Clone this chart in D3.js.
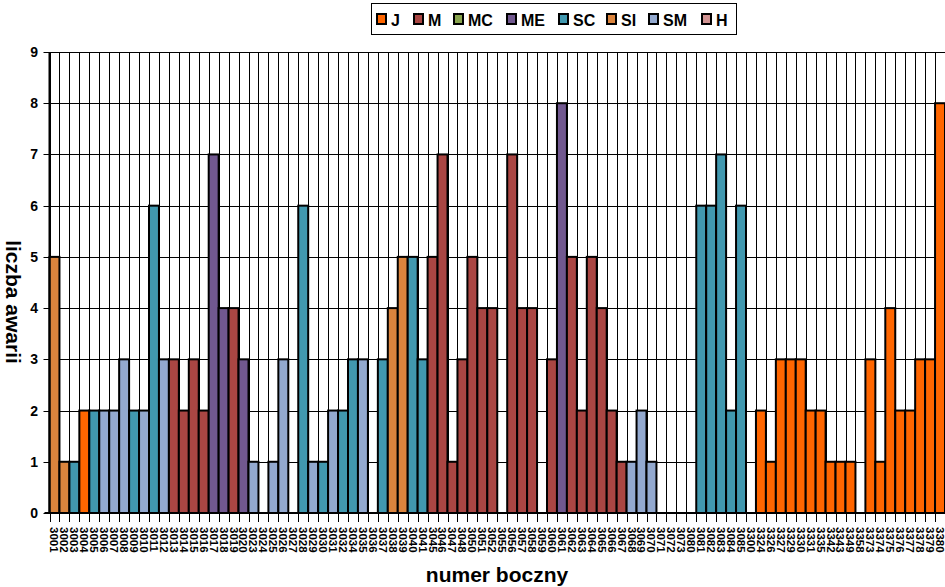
<!DOCTYPE html>
<html><head><meta charset="utf-8">
<script src="https://cdn.jsdelivr.net/npm/d3@7"></script>
<style>body{margin:0;background:#fff}svg{display:block}text{font-family:"Liberation Sans",Arial,sans-serif;font-weight:bold}</style>
</head><body><svg id="c" width="945" height="587"></svg>
<script>
const categories = ["3001","3002","3003","3004","3005","3006","3007","3008","3009","3010","3011","3012","3013","3014","3015",
"3016","3017","3018","3019","3020",
"3023","3024","3025","3026","3027","3028","3029","3030","3031",
"3032","3034","3035","3036","3037","3038","3039","3040","3041","3045","3046","3047","3048","3050",
"3051","3052","3055","3056","3057","3058","3059","3060","3061","3062","3063","3064","3065","3066",
"3067","3068","3069","3070","3071","3072","3073","3080","3081","3082","3083","3084","3085","3300",
"3324","3326","3327","3329","3330","3331","3335","3342","3343","3349","3358","3373","3374","3375","3376","3377","3378","3379","3380"];
const types = ["SI","SI","SC","J","SC","SM","SM","SM","SC","SM","SC","SM","M","M","M",
"M","ME","ME","M","ME",
"SM",null,"SM","SM",null,"SC","SM","SC","SM",
"SC","SC","SM",null,"SC","SI","SI","SC","SC","M","M","M","M","M",
"M","M",null,"M","M","M",null,"M","ME","M","M","M","M","M",
"M","SM","SM","SM",null,null,null,null,"SC","SC","SC","SC","SC",null,
"J","J","J","J","J","J","J","J","J","J",null,"J","J","J","J","J","J","J","J"];
const values = [5,1,1,2,2,2,2,3,2,2,6,3,3,2,3,
2,7,4,4,3,
1,0,1,3,0,6,1,1,2,
2,3,3,0,3,4,5,5,3,5,7,1,3,5,
4,4,0,7,4,4,0,3,8,5,2,5,4,2,
1,1,2,1,0,0,0,0,6,6,7,2,6,0,
2,1,3,3,3,2,2,1,1,1,0,3,1,4,2,2,3,3,8];
const seriesNames = ["J","M","MC","ME","SC","SI","SM","H"];
const seriesColors = ["#FF6600","#AA4643","#89A54E","#71588F","#4198AF","#DB843D","#93A9CF","#D19392"];
const yTicks = [0,1,2,3,4,5,6,7,8,9];

(function(){
const svg = d3.select("#c");
const pL = 49.5, pR = 945, pT = 52, pB = 513;
const x = d3.scaleBand().domain(categories).range([pL, pR]).padding(0);
const y = d3.scaleLinear().domain([0, 9]).range([pB, pT]);
const color = d3.scaleOrdinal().domain(seriesNames).range(seriesColors);

svg.append("g").selectAll("line").data(yTicks).join("line")
  .attr("x1", pL).attr("x2", pR).attr("y1", d => Math.round(y(d)) + 0.5).attr("y2", d => Math.round(y(d)) + 0.5)
  .attr("stroke", "#000").attr("stroke-width", 1);
const bounds = categories.map(c => x(c)).concat([pR]);
svg.append("g").selectAll("line").data(bounds).join("line")
  .attr("x1", d => Math.round(d) + 0.5).attr("x2", d => Math.round(d) + 0.5)
  .attr("y1", pT).attr("y2", pB)
  .attr("stroke", "#000").attr("stroke-width", 1);

const data = categories.map((c, i) => ({c, v: values[i], t: types[i]})).filter(d => d.t && d.v > 0);
svg.append("g").selectAll("rect").data(data).join("rect")
  .attr("x", d => x(d.c)).attr("width", x.bandwidth())
  .attr("y", d => y(d.v)).attr("height", d => pB - y(d.v))
  .attr("fill", d => color(d.t)).attr("stroke", "#000").attr("stroke-width", 2);

svg.append("line").attr("x1", pL - 5).attr("x2", pR).attr("y1", pB).attr("y2", pB)
  .attr("stroke", "#000").attr("stroke-width", 2);
svg.append("g").selectAll("line").data(bounds).join("line")
  .attr("x1", d => Math.round(d) + 0.5).attr("x2", d => Math.round(d) + 0.5)
  .attr("y1", pB).attr("y2", pB + 9).attr("stroke", "#000").attr("stroke-width", 1);
svg.append("g").selectAll("text").data(categories).join("text")
  .attr("transform", d => `translate(${x(d) + x.bandwidth() / 2},527) rotate(90)`)
  .attr("dy", "0.35em").attr("text-anchor", "start")
  .style("font-size", "11.5px").text(d => d);

svg.append("line").attr("x1", pL).attr("x2", pL).attr("y1", pT).attr("y2", pB)
  .attr("stroke", "#000").attr("stroke-width", 2);
svg.append("g").selectAll("line").data(yTicks).join("line")
  .attr("x1", pL - 6).attr("x2", pL).attr("y1", d => Math.round(y(d)) + 0.5).attr("y2", d => Math.round(y(d)) + 0.5)
  .attr("stroke", "#000").attr("stroke-width", 1);
svg.append("g").selectAll("text").data(yTicks).join("text")
  .attr("x", 38).attr("y", d => y(d)).attr("dy", "0.36em").attr("text-anchor", "end")
  .style("font-size", "14px").text(d => d);

svg.append("text").attr("x", 497).attr("y", 582).attr("text-anchor", "middle")
  .style("font-size", "21px").text("numer boczny");
svg.append("text").attr("transform", "translate(6,302) rotate(90)").attr("text-anchor", "middle")
  .style("font-size", "21px").text("liczba awarii");

const lg = svg.append("g");
lg.append("rect").attr("x", 371.5).attr("y", 3.5).attr("width", 365).attr("height", 31)
  .attr("fill", "#fff").attr("stroke", "#000").attr("stroke-width", 1);
const legX = [377, 414, 454, 507, 559, 607, 649, 702];
seriesNames.forEach((s, i) => {
  lg.append("rect").attr("x", legX[i]).attr("y", 14).attr("width", 9).attr("height", 10)
    .attr("fill", seriesColors[i]).attr("stroke", "#000").attr("stroke-width", 2);
  lg.append("text").attr("x", legX[i] + 14).attr("y", 25.5).style("font-size", "16px").text(s);
});
})();
</script></body></html>
